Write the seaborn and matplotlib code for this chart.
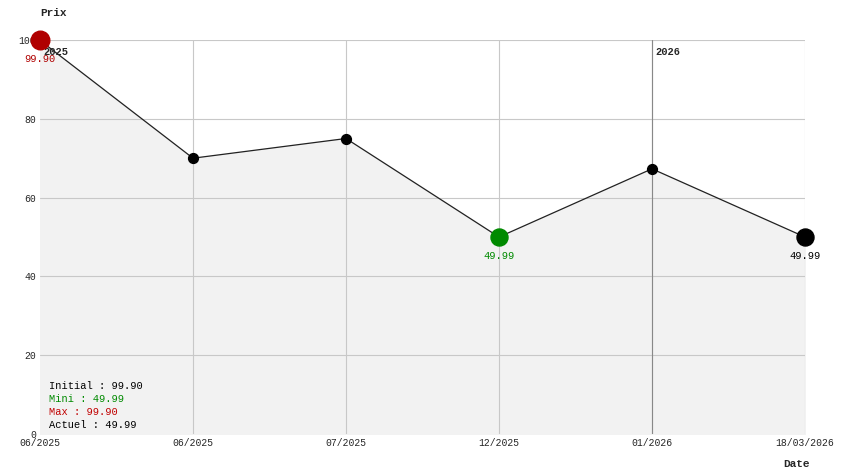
import matplotlib
matplotlib.use("Agg")
import matplotlib.pyplot as plt
import seaborn as sns
import pandas as pd

dates = ["06/2025", "06/2025", "07/2025", "12/2025", "01/2026", "18/03/2026"]
prices = [99.90, 70.0, 75.0, 49.99, 67.3, 49.99]
yticks = [0, 20, 40, 60, 80, 100]

sns.set_style("white")
plt.rcParams['font.family'] = ['Liberation Mono', 'DejaVu Sans Mono']
fig = plt.figure(figsize=(8.44, 4.74), dpi=100)
ax = fig.add_axes([40/844, 40/474, 765/844, 394/474])
xs = list(range(len(prices)))
df = pd.DataFrame({"x": xs, "p": prices})
ax.fill_between(xs, prices, 0, color="#f2f2f2", zorder=0)
for y in yticks[1:]:
    ax.axhline(y, color="#c8c8c8", lw=0.8, zorder=0.5)
for x in xs[1:]:
    ax.axvline(x, color="#c8c8c8", lw=0.8, zorder=0.5)
ax.axvline(4, color="#888888", lw=0.8, zorder=0.6)
sns.lineplot(data=df, x="x", y="p", color="#222222", lw=0.9, ax=ax, zorder=2)
ax.scatter(xs[1:3] + [4], [prices[1], prices[2], prices[4]], s=50, color="black", zorder=3, clip_on=False)
ax.scatter([0], [prices[0]], s=180, color="#b00000", zorder=4, clip_on=False)
ax.scatter([3], [prices[3]], s=150, color="#008a00", zorder=4, clip_on=False)
ax.scatter([5], [prices[5]], s=150, color="black", zorder=4, clip_on=False)
fs = 7.5
ax.text(0, 94.5, "99.90", color="#b00000", ha="center", fontsize=fs, zorder=5)
ax.text(3, 44.5, "49.99", color="#008a00", ha="center", fontsize=fs)
ax.text(5, 44.5, "49.99", color="black", ha="center", fontsize=fs)
ax.text(0.02, 96.2, "2025", fontsize=fs, fontweight="bold", zorder=1)
ax.text(4.02, 96.2, "2026", fontsize=fs, fontweight="bold")
labels = [("Initial : 99.90", "black"), ("Mini : 49.99", "#008a00"),
          ("Max : 99.90", "#c00000"), ("Actuel : 49.99", "black")]
for i, (t, c) in enumerate(labels):
    ax.text(0.06, 11.5 - i * 3.3, t, color=c, fontsize=fs)
ax.set_xlim(0, 5)
ax.set_ylim(0, 100)
ax.set_xticks(xs)
ax.set_xticklabels(dates, fontsize=7)
ax.set_yticks(yticks)
ax.set_yticklabels(yticks, fontsize=7)
ax.tick_params(length=0, pad=3)
for s in ax.spines.values():
    s.set_visible(False)
ax.set_xlabel("")
ax.set_ylabel("")
fig.text(40/844, 1 - 16/474, "Prix", fontsize=8, fontweight="bold")
fig.text(783/844, 1 - 467/474, "Date", fontsize=8, fontweight="bold")
fig.savefig("out.png", dpi=100, facecolor="white")
